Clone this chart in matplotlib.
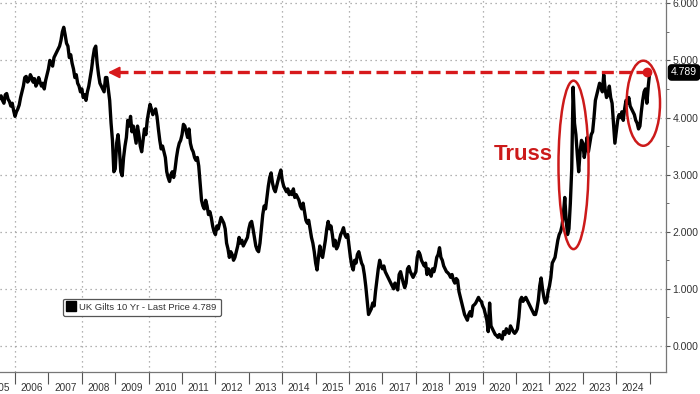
"""
UK Gilts 10 Yr yield, 2005-2025, with the Truss spike and the current level marked.
Values are read off the reference chart at roughly two points per month.
"""

import matplotlib
matplotlib.use("Agg")
import matplotlib.pyplot as plt
import matplotlib.ticker as mticker
from matplotlib.lines import Line2D
from matplotlib.patches import Ellipse
import numpy as np

matplotlib.rcParams.update({
    "font.family": ["Liberation Sans", "DejaVu Sans"],
    "font.size":   7.5,
})

# semi-monthly readings (24 per year), series starts July 2005
Y2005 = [4.30, 4.35, 4.38, 4.30, 4.25, 4.40, 4.42, 4.32, 4.28, 4.20, 4.25, 4.12]
Y2006 = [4.02, 4.10, 4.15, 4.22, 4.35, 4.45, 4.55, 4.70, 4.72, 4.62, 4.65, 4.75,
         4.70, 4.62, 4.68, 4.55, 4.60, 4.70, 4.62, 4.55, 4.60, 4.50, 4.65, 4.75]
Y2007 = [4.85, 5.00, 4.95, 4.90, 5.05, 5.10, 5.15, 5.20, 5.25, 5.35, 5.50, 5.58,
         5.45, 5.30, 5.25, 5.05, 5.10, 4.95, 4.85, 4.70, 4.75, 4.60, 4.55, 4.45]
Y2008 = [4.50, 4.35, 4.40, 4.30, 4.45, 4.55, 4.70, 4.85, 5.05, 5.20, 5.25, 4.95,
         4.75, 4.60, 4.55, 4.50, 4.45, 4.70, 4.70, 4.50, 4.30, 3.90, 3.60, 3.05]
Y2009 = [3.10, 3.55, 3.70, 3.45, 3.05, 2.98, 3.30, 3.50, 3.65, 3.95, 3.85, 4.02,
         3.75, 3.85, 3.70, 3.55, 3.85, 3.70, 3.50, 3.40, 3.60, 3.80, 3.70, 3.95]
Y2010 = [4.10, 4.23, 4.15, 4.05, 4.10, 4.15, 4.02, 3.80, 3.60, 3.45, 3.50, 3.40,
         3.30, 3.05, 2.95, 2.88, 3.00, 3.05, 2.95, 3.10, 3.30, 3.45, 3.55, 3.60]
Y2011 = [3.70, 3.88, 3.85, 3.75, 3.65, 3.80, 3.55, 3.45, 3.40, 3.30, 3.25, 3.30,
         3.15, 2.85, 2.55, 2.45, 2.40, 2.55, 2.45, 2.30, 2.35, 2.25, 2.10, 2.00]
Y2012 = [1.95, 2.10, 2.05, 2.15, 2.25, 2.20, 2.15, 2.05, 1.80, 1.70, 1.55, 1.65,
         1.60, 1.50, 1.55, 1.65, 1.75, 1.90, 1.80, 1.85, 1.75, 1.80, 1.85, 1.90]
Y2013 = [2.05, 2.15, 2.18, 2.05, 1.90, 1.75, 1.68, 1.65, 1.80, 2.05, 2.30, 2.45,
         2.40, 2.60, 2.80, 2.95, 3.03, 2.85, 2.75, 2.70, 2.80, 2.90, 3.00, 3.08]
Y2014 = [2.90, 2.80, 2.75, 2.70, 2.75, 2.65, 2.70, 2.65, 2.75, 2.60, 2.65, 2.60,
         2.55, 2.45, 2.40, 2.50, 2.35, 2.20, 2.15, 2.20, 2.05, 1.90, 1.80, 1.65]
Y2015 = [1.45, 1.33, 1.55, 1.75, 1.60, 1.55, 1.70, 1.85, 2.05, 2.18, 2.05, 2.10,
         1.95, 1.75, 1.85, 1.70, 1.75, 1.85, 1.95, 2.00, 2.07, 1.95, 1.90, 1.95]
Y2016 = [1.75, 1.55, 1.40, 1.33, 1.50, 1.45, 1.60, 1.65, 1.55, 1.45, 1.40, 1.25,
         1.05, 0.80, 0.55, 0.60, 0.65, 0.75, 0.70, 0.95, 1.15, 1.35, 1.50, 1.40]
Y2017 = [1.35, 1.40, 1.30, 1.25, 1.20, 1.15, 1.10, 1.05, 1.00, 1.10, 1.05, 0.98,
         1.25, 1.30, 1.20, 1.10, 1.02, 1.10, 1.35, 1.39, 1.30, 1.25, 1.20, 1.25]
Y2018 = [1.30, 1.55, 1.65, 1.60, 1.50, 1.45, 1.40, 1.45, 1.25, 1.35, 1.30, 1.22,
         1.35, 1.30, 1.40, 1.55, 1.60, 1.72, 1.55, 1.50, 1.40, 1.35, 1.30, 1.28]
Y2019 = [1.25, 1.20, 1.25, 1.15, 1.10, 1.18, 1.15, 0.95, 0.85, 0.75, 0.65, 0.55,
         0.50, 0.45, 0.55, 0.60, 0.52, 0.70, 0.72, 0.75, 0.80, 0.85, 0.80, 0.78]
Y2020 = [0.70, 0.65, 0.55, 0.45, 0.25, 0.75, 0.35, 0.30, 0.25, 0.20, 0.18, 0.15,
         0.20, 0.15, 0.12, 0.25, 0.20, 0.30, 0.25, 0.22, 0.35, 0.30, 0.25, 0.22]
Y2021 = [0.25, 0.30, 0.50, 0.80, 0.85, 0.78, 0.82, 0.85, 0.80, 0.75, 0.70, 0.65,
         0.60, 0.55, 0.55, 0.65, 0.80, 1.05, 1.19, 1.00, 0.85, 0.75, 0.78, 0.95]
Y2022 = [1.05, 1.20, 1.45, 1.50, 1.55, 1.70, 1.85, 1.95, 2.00, 2.10, 2.30, 2.60,
         2.20, 1.95, 2.05, 2.50, 3.10, 4.53, 3.90, 3.70, 3.35, 3.05, 3.40, 3.60]
Y2023 = [3.55, 3.30, 3.45, 3.65, 3.40, 3.55, 3.70, 3.75, 4.00, 4.30, 4.40, 4.50,
         4.60, 4.55, 4.45, 4.75, 4.50, 4.35, 4.40, 4.55, 4.35, 4.25, 3.90, 3.55]
Y2024 = [3.75, 3.95, 4.05, 4.00, 4.10, 3.95, 4.15, 4.30, 4.25, 4.35, 4.20, 4.15,
         4.10, 4.05, 3.95, 3.90, 3.80, 3.85, 4.10, 4.30, 4.45, 4.50, 4.25, 4.55]
Y2025 = [4.789]

LAST_PRICE = 4.789
SERIES_LABEL = f"UK Gilts 10 Yr - Last Price {LAST_PRICE:.3f}"
YEARS = list(range(2005, 2025))
RED = "#d7191c"

yields = np.array(Y2005 + Y2006 + Y2007 + Y2008 + Y2009 + Y2010 + Y2011 + Y2012 +
                  Y2013 + Y2014 + Y2015 + Y2016 + Y2017 + Y2018 + Y2019 + Y2020 +
                  Y2021 + Y2022 + Y2023 + Y2024 + Y2025)
dates = 2005.5 + np.arange(len(yields)) / 24.0

fig = plt.figure(figsize=(7.0, 3.94), dpi=100)
ax = fig.add_axes([0.0, 0.056, 0.951, 0.944])

ax.plot(dates, yields, color="black", linewidth=2.4, zorder=3)

ax.set_xlim(2005.55, 2025.48)
ax.set_ylim(-0.456, 6.058)

# grid: dotted, every unit on y, every second year on x
ax.grid(axis="y", color="#9a9a9a", linestyle=(0, (1, 3)), linewidth=0.9)
for yr in range(2006, 2026, 2):
    ax.axvline(yr, color="#9a9a9a", linestyle=(0, (1, 3)), linewidth=0.9, zorder=0)

# right-hand value axis
ax.yaxis.tick_right()
ax.yaxis.set_major_locator(mticker.MultipleLocator(1))
ax.yaxis.set_minor_locator(mticker.MultipleLocator(0.5))
ax.yaxis.set_major_formatter(mticker.FormatStrFormatter("%.3f"))
ax.tick_params(axis="y", which="major", length=3, pad=2, colors="#555555",
               labelsize=7.5, labelcolor="#333333")
ax.tick_params(axis="y", which="minor", length=2, colors="#555555")

# bottom axis: separators at year starts, labels in between
ax.xaxis.set_major_locator(mticker.FixedLocator(range(2006, 2026)))
ax.tick_params(axis="x", which="major", length=8.5, colors="#555555", labelbottom=False)
for yr in YEARS:
    ax.text(yr + 0.5, -0.044, str(yr), transform=ax.get_xaxis_transform(),
            ha="center", va="center", fontsize=7.2, color="#333333", clip_on=False)

for side in ("top", "left"):
    ax.spines[side].set_visible(False)
for side in ("right", "bottom"):
    ax.spines[side].set_color("#777777")
    ax.spines[side].set_linewidth(0.9)

# last price tag
ax.text(1.008, LAST_PRICE, f"{LAST_PRICE:.3f}", transform=ax.get_yaxis_transform(),
        ha="left", va="center", fontsize=7.5, color="white", clip_on=False,
        bbox=dict(boxstyle="round,pad=0.25,rounding_size=0.3", fc="black", ec="black"))

# dashed red arrow back to the 2008 level
arrow_tip = 2008.78
arrow_end = 2024.93
ax.plot([arrow_tip + 0.25, arrow_end], [LAST_PRICE, LAST_PRICE], color=RED,
        linewidth=2.4, linestyle=(0, (3.6, 1.6)), zorder=5)
ax.plot([arrow_end], [LAST_PRICE], marker="o", markersize=6, color=RED, zorder=6)
ax.annotate("", xy=(arrow_tip, LAST_PRICE), xytext=(arrow_tip + 0.35, LAST_PRICE),
            arrowprops=dict(arrowstyle="-|>,head_length=0.9,head_width=0.45",
                            color=RED, lw=1.5, shrinkA=0, shrinkB=0), zorder=6)

# ellipses and label
ax.add_patch(Ellipse((2022.72, 3.17), 0.9, 2.95, fill=False, ec="#cc1a1a",
                     linewidth=1.8, zorder=6))
ax.add_patch(Ellipse((2024.81, 4.25), 1.0, 1.49, fill=False, ec="#cc1a1a",
                     linewidth=1.8, zorder=6))
ax.text(2021.22, 3.35, "Truss", ha="center", va="center", fontsize=16,
        fontweight="bold", color="#cc1a1a", zorder=6)

# legend
handle = Line2D([], [], color="black", marker="s", markersize=7, linestyle="none")
leg = ax.legend([handle], [SERIES_LABEL], loc="upper left",
                bbox_to_anchor=(0.088, 0.21), fontsize=6.8, handlelength=0.8,
                handletextpad=0.4, borderpad=0.45, fancybox=True, framealpha=1)
leg.get_frame().set_edgecolor("#555555")
leg.get_frame().set_linewidth(0.9)
for t in leg.get_texts():
    t.set_color("#333333")

fig.savefig("out.png", dpi=100)
